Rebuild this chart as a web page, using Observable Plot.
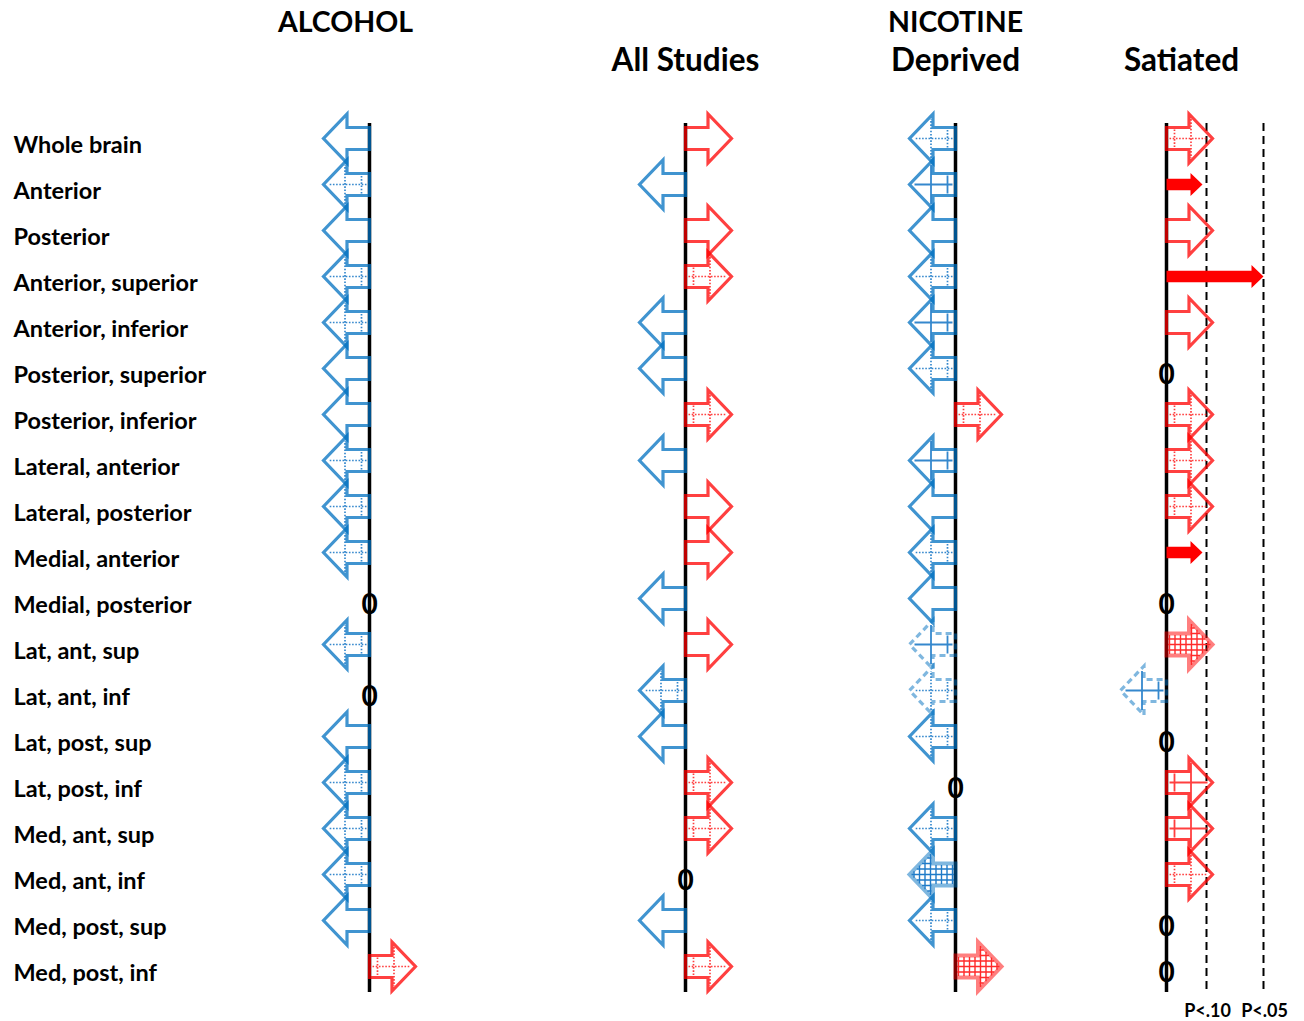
<!DOCTYPE html>
<html><head><meta charset="utf-8">
<script src="https://cdn.jsdelivr.net/npm/d3@7"></script>
<script src="https://cdn.jsdelivr.net/npm/@observablehq/plot@0.6"></script>
<style>body{margin:0;background:#fff} svg{display:block}</style>
</head><body><div id="chart"></div>
<script>
// ---------- DATA ----------
const rows = ["Whole brain","Anterior","Posterior","Anterior, superior","Anterior, inferior",
  "Posterior, superior","Posterior, inferior","Lateral, anterior","Lateral, posterior",
  "Medial, anterior","Medial, posterior","Lat, ant, sup","Lat, ant, inf","Lat, post, sup",
  "Lat, post, inf","Med, ant, sup","Med, ant, inf","Med, post, sup","Med, post, inf"];

const panels = ["Alcohol", "All Studies", "Deprived", "Satiated"];
const groupTitles = ["ALCOHOL", "NICOTINE"];
const subTitles = ["All Studies", "Deprived", "Satiated"];

// direction: -1 = decrease (blue, left), 1 = increase (red, right), 0 = no change
const alcoholDir    = [-1,-1,-1,-1,-1,-1,-1,-1,-1,-1, 0,-1, 0,-1,-1,-1,-1,-1, 1];
const allStudiesDir = [ 1,-1, 1, 1,-1,-1, 1,-1, 1, 1,-1, 1,-1,-1, 1, 1, 0,-1, 1];
const deprivedDir   = [-1,-1,-1,-1,-1,-1, 1,-1,-1,-1,-1,-1,-1,-1, 0,-1,-1,-1, 1];
const satiatedDir   = [ 1, 1, 1, 1, 1, 0, 1, 1, 1, 1, 0, 1,-1, 0, 1, 1, 1, 0, 0];

// arrow fill kind
const alcoholFill    = ["open","dotted","open","dotted","dotted","open","open","dotted","dotted","dotted","","dotted","","open","dotted","dotted","dotted","open","dotted"];
const allStudiesFill = ["open","open","open","dotted","open","open","dotted","open","open","open","open","open","dotted","open","dotted","dotted","","open","dotted"];
const deprivedFill   = ["dotted","grid","open","dotted","grid","dotted","dotted","grid","open","dotted","open","grid-faint","dotted-faint","dotted","","dotted","hatch","dotted","hatch"];
const satiatedFill   = ["dotted","solid","open","solid","open","","dotted","dotted","dotted","solid","","hatch","grid-faint","","grid","grid","dotted","",""];

// strength of the solid (graded) satiated arrows, same units as the significance lines
const satiatedStrength = [null,0.36,null,0.97,null,null,null,null,null,0.36,null,null,null,null,null,null,null,null,null];
const thresholdLabels = ["P<.10", "P<.05"];
const thresholdValues = [0.40, 0.97];

// ---------- LAYOUT ----------
const AXIS = {"Alcohol": 369, "All Studies": 685, "Deprived": 955, "Satiated": 1166};
const GROUP_X = {"ALCOHOL": 345, "NICOTINE": 955};
const SUB_X = {"All Studies": 685, "Deprived": 955, "Satiated": 1181};
const SIG_PX = 100;
const LEN = 46, HEAD = 23.5, HEAD_HALF = 24.5, SHAFT_HALF = 11;
const BLUE = "#0070c0", RED = "#ff0000";
const BLUE_IN = "#1f7bc8", RED_IN = "#ff2a2a";
const FONT = "Lato, 'Open Sans', sans-serif";

const dirs = {"Alcohol": alcoholDir, "All Studies": allStudiesDir, "Deprived": deprivedDir, "Satiated": satiatedDir};
const fills = {"Alcohol": alcoholFill, "All Studies": allStudiesFill, "Deprived": deprivedFill, "Satiated": satiatedFill};
const items = [];
for (const panel of panels) rows.forEach((row, i) => {
  items.push({panel, row, dir: dirs[panel][i], style: fills[panel][i],
    strength: panel === "Satiated" ? satiatedStrength[i] : null});
});
const arrows = items.filter(d => d.dir !== 0 && d.style !== "solid");
const solids = items.filter(d => d.style === "solid");
const zeros = items.filter(d => d.dir === 0);

// ---------- SHAPES (drawn pointing up, rotated by the vector mark) ----------
function outlineShape(head, headHalf, shaftHalf) {
  return {draw(ctx, l) {
    const b = l - head;
    ctx.moveTo(-shaftHalf, 0); ctx.lineTo(-shaftHalf, -b); ctx.lineTo(-headHalf, -b);
    ctx.lineTo(0, -l); ctx.lineTo(headHalf, -b); ctx.lineTo(shaftHalf, -b);
    ctx.lineTo(shaftHalf, 0); ctx.closePath();
  }};
}
function halfAt(a, l) { const b = l - HEAD; return a <= b ? SHAFT_HALF : HEAD_HALF * (l - a) / HEAD; }
const crossInner = {draw(ctx, l) {
  ctx.moveTo(0, -3); ctx.lineTo(0, -(l - 5));
  ctx.moveTo(-(SHAFT_HALF - 2), -8); ctx.lineTo(SHAFT_HALF - 2, -8);
  const a = l - HEAD + 2, h = halfAt(a, l) - 3;
  ctx.moveTo(-h, -a); ctx.lineTo(h, -a);
}};
const hatchInner = {draw(ctx, l) {
  const step = 5.5;
  for (let a = 3; a < l - 3; a += step) {
    const h = halfAt(a, l) - 1.5;
    if (h > 0.5) { ctx.moveTo(-h, -a); ctx.lineTo(h, -a); }
  }
  for (let p = -4 * step; p <= 4 * step + 0.01; p += step) {
    const ap = Math.abs(p);
    const end = l - HEAD * ap / HEAD_HALF - 2;
    const start = ap <= SHAFT_HALF - 1 ? 1.5 : l - HEAD + 1.5;
    if (end > start) { ctx.moveTo(p, -start); ctx.lineTo(p, -end); }
  }
}};
const bigArrow = outlineShape(HEAD, HEAD_HALF, SHAFT_HALF);
const solidArrow = outlineShape(12, 11.5, 5.8);

const base = {x: d => AXIS[d.panel], y: "row", anchor: "start", length: LEN, dy: -7,
  rotate: d => d.dir > 0 ? 90 : -90, strokeLinejoin: "miter", strokeLinecap: "butt", fill: "none"};
const col = d => d.dir > 0 ? RED : BLUE;
const colIn = d => d.dir > 0 ? RED_IN : BLUE_IN;
const isDotted = d => d.style === "dotted" || d.style === "dotted-faint";
const isGrid = d => d.style === "grid" || d.style === "grid-faint";

const chart = Plot.plot({
  width: 1304, height: 1021, margin: 0,
  x: {domain: [0, 1304], range: [0, 1304], axis: null},
  y: {type: "point", domain: rows, range: [143, 974], padding: 0, axis: null},
  length: {type: "linear", domain: [0, 1], range: [0, SIG_PX]},
  color: {type: "identity"},
  style: {background: "white"},
  marks: [
    Plot.ruleX(panels, {x: p => AXIS[p], y1: () => rows[0], y2: () => rows[rows.length - 1],
      insetTop: -22, insetBottom: -19, stroke: "black", strokeWidth: 3.5}),
    Plot.ruleX(thresholdValues, {x: v => AXIS["Satiated"] + v * SIG_PX, y1: () => rows[0], y2: () => rows[rows.length - 1],
      insetTop: -22, insetBottom: -19, stroke: "black", strokeWidth: 2, strokeDasharray: "8,5"}),
    // outlines
    Plot.vector(arrows.filter(d => ["open","dotted","grid"].includes(d.style)),
      {...base, shape: bigArrow, stroke: col, strokeWidth: 3.2, strokeOpacity: 0.75}),
    Plot.vector(arrows.filter(d => d.style.endsWith("-faint")),
      {...base, shape: bigArrow, stroke: col, strokeWidth: 3.2, strokeOpacity: 0.5, strokeDasharray: "6,4"}),
    Plot.vector(arrows.filter(d => d.style === "hatch"),
      {...base, shape: bigArrow, stroke: col, strokeWidth: 4, strokeOpacity: 0.5}),
    // interiors
    Plot.vector(arrows.filter(isDotted),
      {...base, shape: crossInner, stroke: colIn, strokeWidth: 1.7, strokeOpacity: 0.9, strokeDasharray: "1.6,1.6"}),
    Plot.vector(arrows.filter(isGrid),
      {...base, shape: crossInner, stroke: colIn, strokeWidth: 1.8, strokeOpacity: 0.9}),
    Plot.vector(arrows.filter(d => d.style === "hatch"),
      {...base, shape: hatchInner, stroke: colIn, strokeWidth: 1.4, strokeOpacity: 1}),
    // graded solid arrows
    Plot.vector(solids, {x: d => AXIS[d.panel], y: "row", anchor: "start", dy: -7, rotate: 90,
      length: "strength", shape: solidArrow, fill: RED, stroke: "none"}),
    // zero markers
    Plot.text(zeros, {x: d => AXIS[d.panel], y: "row", text: () => "0", fontSize: 28,
      fontWeight: "bold", fontFamily: FONT, fill: "black"}),
    // row labels
    Plot.text(rows, {y: d => d, text: d => d, frameAnchor: "left", dx: 13, textAnchor: "start",
      fontSize: 23.5, fontWeight: "bold", fontFamily: FONT, fill: "black"}),
    // headers
    Plot.text(groupTitles, {x: d => GROUP_X[d], text: d => d, frameAnchor: "top", lineAnchor: "middle", dy: 22,
      fontSize: 28.5, fontWeight: "bold", fontFamily: FONT, fill: "black"}),
    Plot.text(subTitles, {x: d => SUB_X[d], text: d => d, frameAnchor: "top", lineAnchor: "middle", dy: 60,
      fontSize: 31.5, fontWeight: "bold", fontFamily: FONT, fill: "black"}),
    // significance labels
    Plot.text(thresholdLabels, {x: (d, i) => AXIS["Satiated"] + thresholdValues[i] * SIG_PX, text: d => d,
      frameAnchor: "bottom", lineAnchor: "middle", dy: -10, dx: 1, fontSize: 18, fontWeight: "bold", fontFamily: FONT, fill: "black"})
  ]
});
document.getElementById("chart").append(chart);
</script></body></html>
